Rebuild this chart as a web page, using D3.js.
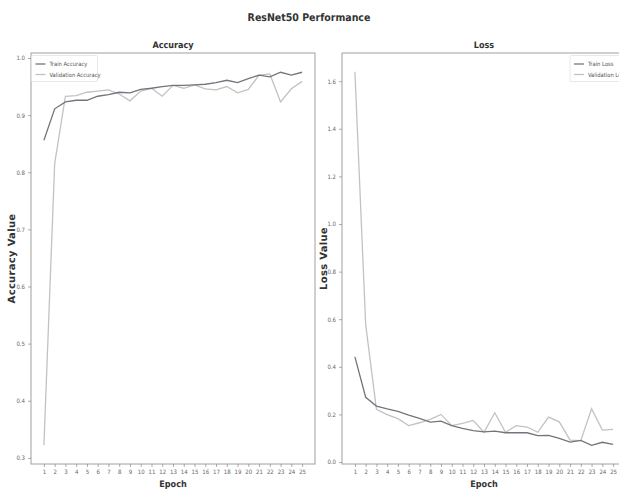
<!DOCTYPE html>
<html><head><meta charset="utf-8">
<script src="https://cdn.jsdelivr.net/npm/d3@7"></script>
<style>body{margin:0;background:#fff;}svg{display:block;}text{text-rendering:geometricPrecision;}</style>
</head><body>
<svg id="c" width="619" height="489"></svg>
<script>
const epochs = d3.range(1, 26);
const trainAcc = [0.856,0.911,0.923,0.926,0.926,0.933,0.936,0.940,0.939,0.945,0.947,0.950,0.952,0.952,0.953,0.954,0.957,0.961,0.957,0.964,0.970,0.967,0.975,0.970,0.975];
const valAcc   = [0.322,0.815,0.933,0.934,0.940,0.942,0.944,0.937,0.925,0.942,0.947,0.933,0.952,0.947,0.953,0.946,0.944,0.950,0.939,0.945,0.970,0.972,0.923,0.946,0.959];
const trainLoss = [0.442,0.272,0.235,0.223,0.213,0.197,0.183,0.168,0.172,0.153,0.141,0.132,0.127,0.130,0.123,0.123,0.123,0.111,0.112,0.099,0.084,0.091,0.070,0.083,0.074];
const valLoss   = [1.640,0.578,0.221,0.199,0.182,0.153,0.165,0.179,0.200,0.153,0.162,0.175,0.125,0.207,0.125,0.153,0.147,0.125,0.189,0.169,0.092,0.090,0.224,0.134,0.137];
const accTicks = [0.3,0.4,0.5,0.6,0.7,0.8,0.9,1.0];
const lossTicks = [0.0,0.2,0.4,0.6,0.8,1.0,1.2,1.4,1.6];

const svg = d3.select("#c");
const TRAIN = "#74747e", VAL = "#c2c2c2", SPINE = "#a0a0a0", TICK = "#777";
const condensed = "'DejaVu Sans Condensed','DejaVu Sans',sans-serif";

svg.append("text").attr("x", 309).attr("y", 21).attr("text-anchor","middle")
  .attr("font-family", condensed).attr("font-weight","bold").attr("font-size", 10.5).attr("fill","#333")
  .text("ResNet50 Performance");

function panel(opt){
  const {x0,x1,y0,y1,ydom,ticks,fmt,tr,va,title,ylabel,ylabX,legend,legendNames} = opt;
  const g = svg.append("g");
  const x = d3.scaleLinear().domain([1-1.2, 25+1.2]).range([x0,x1]);
  const y = d3.scaleLinear().domain(ydom).range([y1,y0]);
  g.append("rect").attr("x",x0).attr("y",y0).attr("width",x1-x0).attr("height",y1-y0)
    .attr("fill","none").attr("stroke",SPINE).attr("stroke-width",1);
  const xa = g.append("g").attr("transform",`translate(0,${y1})`)
    .call(d3.axisBottom(x).tickValues(epochs).tickSize(3).tickPadding(3).tickFormat(d3.format("d")));
  const ya = g.append("g").attr("transform",`translate(${x0},0)`)
    .call(d3.axisLeft(y).tickValues(ticks).tickSize(3).tickPadding(3).tickFormat(fmt));
  [xa,ya].forEach(a=>{
    a.select(".domain").remove();
    a.selectAll("line").attr("stroke",TICK).attr("stroke-width",0.6);
    a.selectAll("text").attr("fill","#666").attr("font-family",condensed).attr("font-size",6);
  });
  const line = d3.line().x((d,i)=>x(epochs[i])).y(d=>y(d));
  g.append("path").datum(va).attr("d",line).attr("fill","none").attr("stroke",VAL).attr("stroke-width",1.3);
  g.append("path").datum(tr).attr("d",line).attr("fill","none").attr("stroke",TRAIN).attr("stroke-width",1.3);
  g.append("text").attr("x",(x0+x1)/2).attr("y",y0-5).attr("text-anchor","middle")
    .attr("font-family",condensed).attr("font-weight","bold").attr("font-size",9).attr("fill","#333").text(title);
  g.append("text").attr("x",(x0+x1)/2).attr("y",487).attr("text-anchor","middle")
    .attr("font-family",condensed).attr("font-weight","bold").attr("font-size",9).attr("fill","#333").text("Epoch");
  g.append("text").attr("transform",`translate(${ylabX},${(y0+y1)/2}) rotate(-90)`).attr("text-anchor","middle")
    .attr("font-family","'DejaVu Sans',sans-serif").attr("font-weight","bold").attr("font-size",10)
    .attr("letter-spacing",0.3).attr("fill","#333").text(ylabel);
  const lg = g.append("g");
  lg.append("rect").attr("x",legend.x).attr("y",legend.y).attr("width",legend.w).attr("height",26)
    .attr("fill","#fff").attr("stroke","#e2e2e2").attr("stroke-width",0.8).attr("rx",1.5);
  [[TRAIN,legendNames[0]],[VAL,legendNames[1]]].forEach(([c,t],i)=>{
    const yy = legend.y + 8.5 + i*10.5;
    lg.append("line").attr("x1",legend.x+4).attr("x2",legend.x+14).attr("y1",yy).attr("y2",yy).attr("stroke",c).attr("stroke-width",1.3);
    lg.append("text").attr("x",legend.x+18).attr("y",yy+2).attr("font-family",condensed).attr("font-size",5.8).attr("fill","#555").text(t);
  });
}

panel({x0:31,x1:315,y0:53,y1:464,ydom:[0.2893,1.0087],ticks:accTicks,fmt:d3.format(".1f"),
  tr:trainAcc,va:valAcc,title:"Accuracy",ylabel:"Accuracy Value",ylabX:15,
  legend:{x:31.5,y:55.5,w:66},legendNames:["Train Accuracy","Validation Accuracy"]});
panel({x0:342,x1:626,y0:53,y1:464,ydom:[-0.0083,1.7185],ticks:lossTicks,fmt:d3.format(".1f"),
  tr:trainLoss,va:valLoss,title:"Loss",ylabel:"Loss Value",ylabX:327,
  legend:{x:570,y:55.5,w:60},legendNames:["Train Loss","Validation Loss"]});
</script>
</body></html>
